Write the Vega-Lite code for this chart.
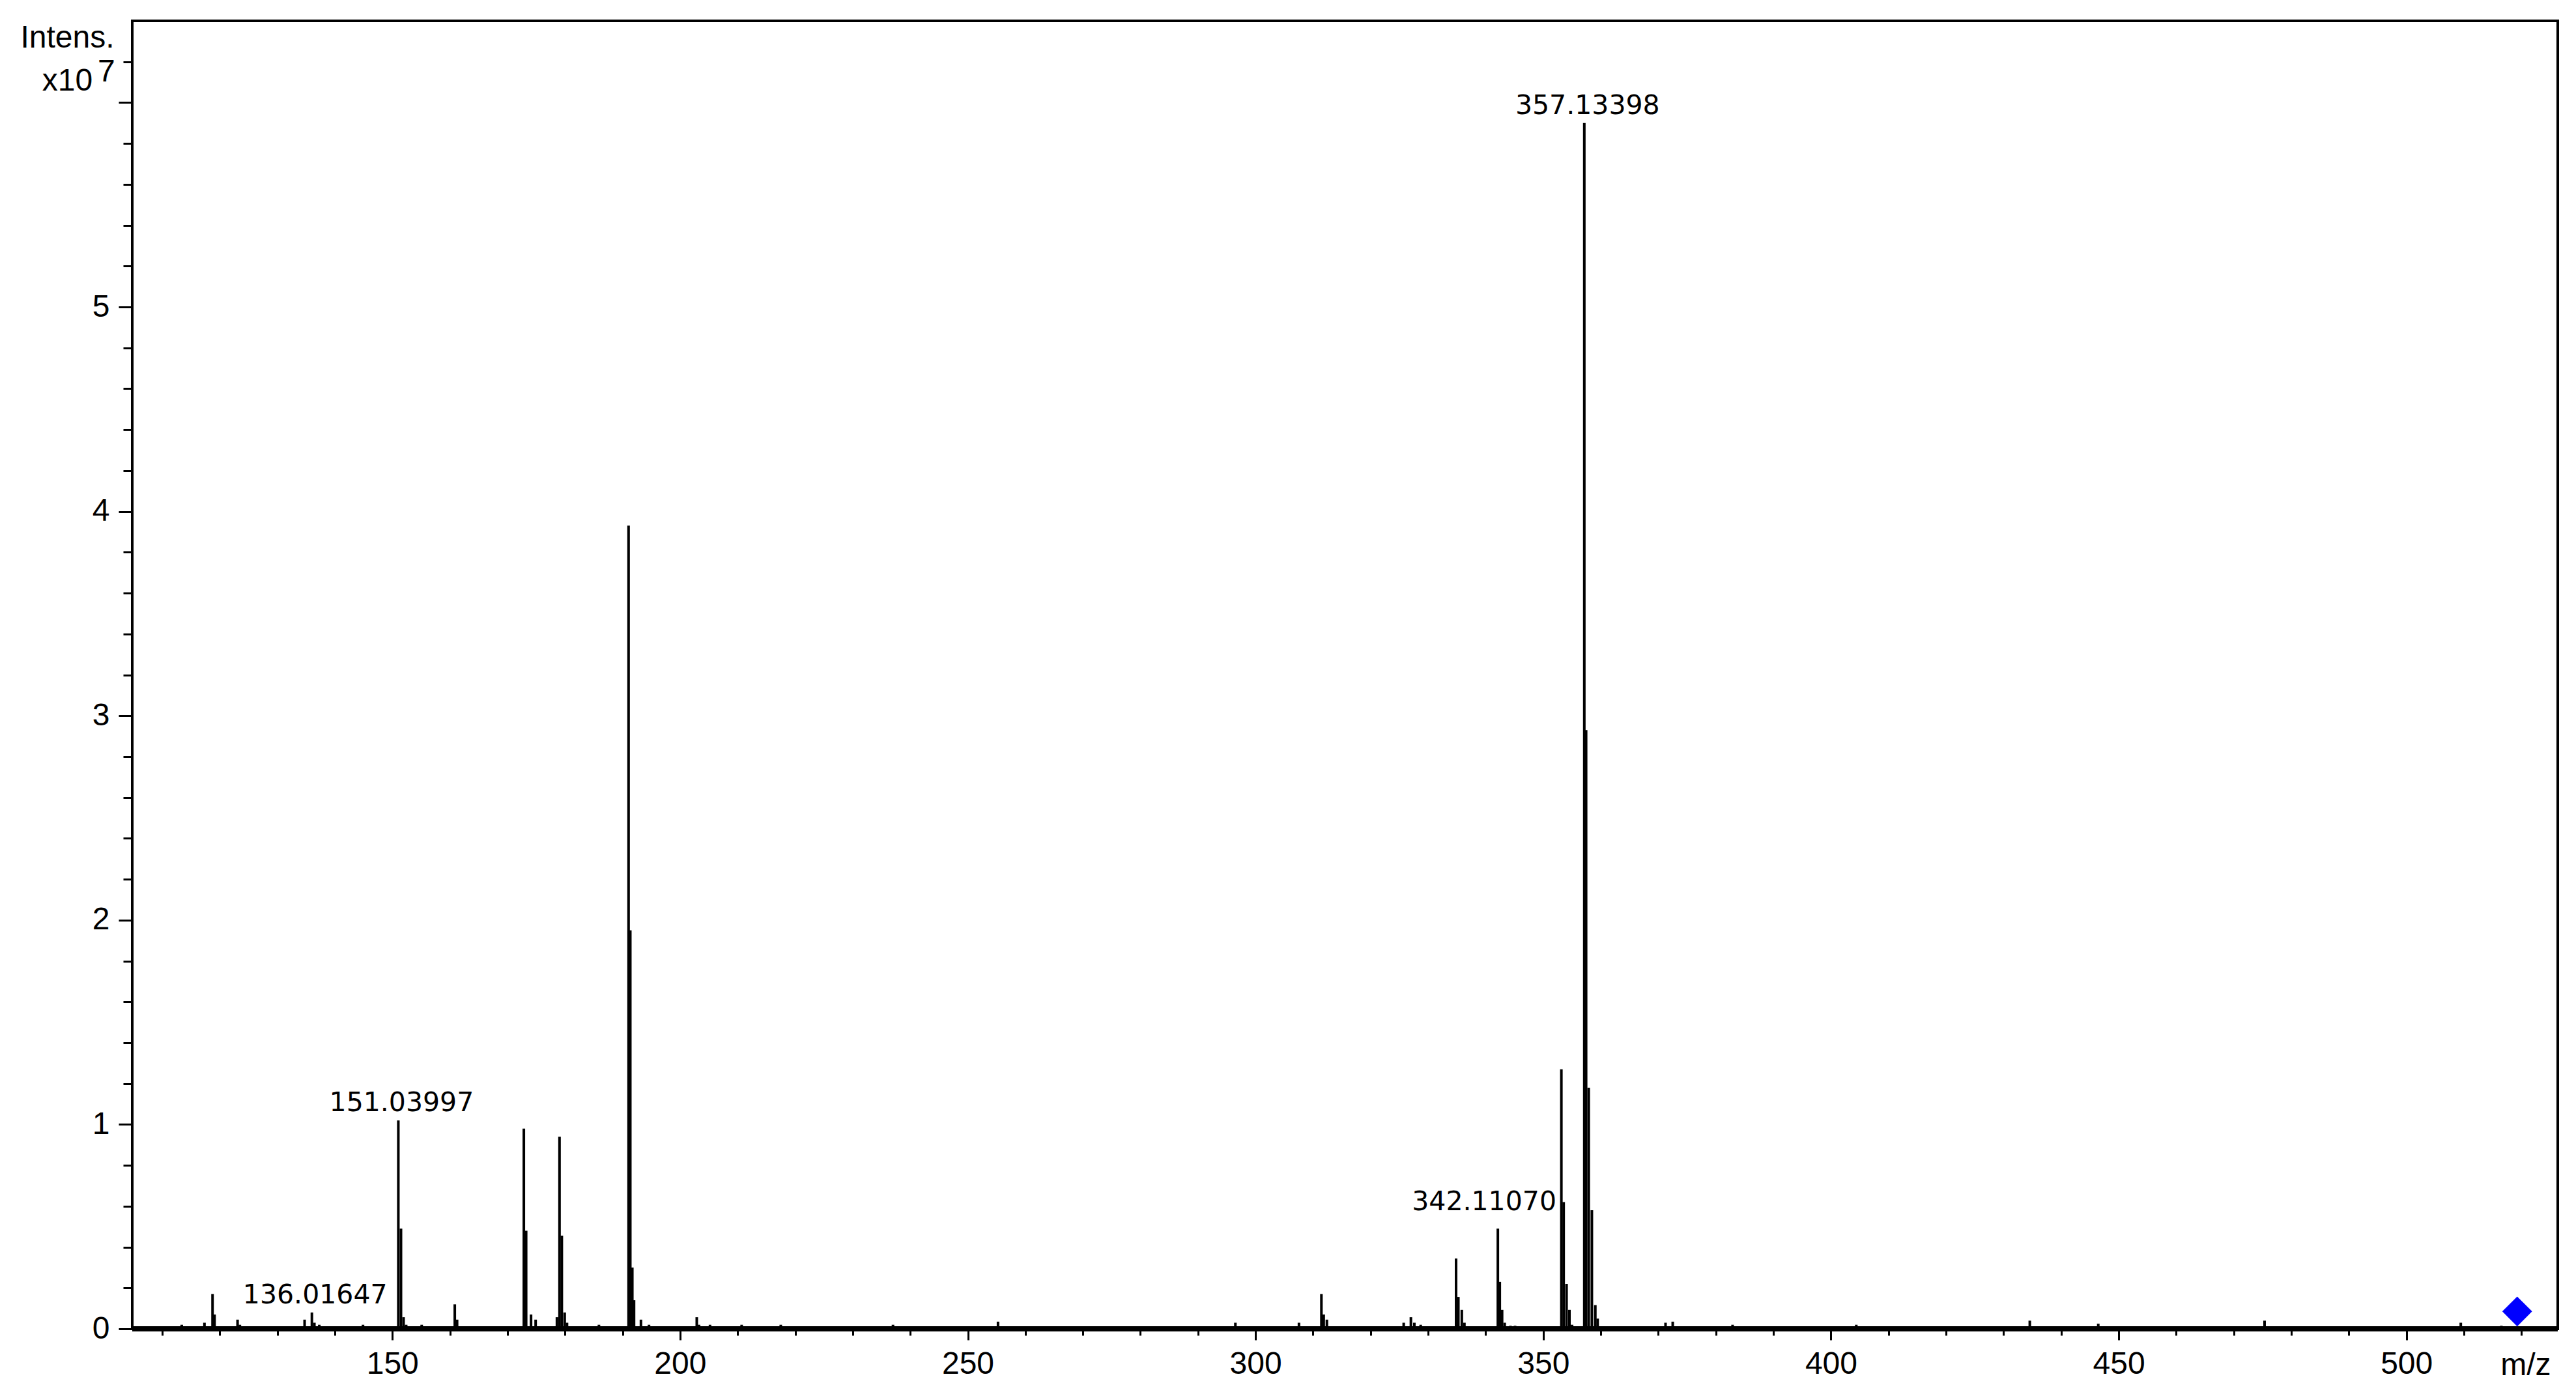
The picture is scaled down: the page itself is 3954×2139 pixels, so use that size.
{
  "$schema": "https://vega.github.io/schema/vega-lite/v6.json",
  "width": 3723,
  "height": 2007,
  "autosize": {"type": "none"},
  "padding": {"left": 203, "top": 32, "right": 28, "bottom": 100},
  "background": "white",
  "config": {
    "view": {"stroke": "black", "strokeWidth": 4},
    "axis": {
      "labelFont": "Liberation Sans",
      "labelFontSize": 48,
      "labelColor": "black",
      "titleFont": "Liberation Sans",
      "titleFontSize": 48,
      "titleFontWeight": "normal",
      "titleColor": "black",
      "tickColor": "black",
      "tickWidth": 3,
      "grid": false,
      "domain": false,
      "labelOverlap": false,
      "labelFlush": false
    }
  },
  "title": {
    "text": "7",
    "anchor": "start",
    "frame": "group",
    "orient": "top",
    "offset": 0,
    "dx": -53,
    "dy": 141,
    "font": "Liberation Sans",
    "fontSize": 48,
    "fontWeight": "normal",
    "color": "black",
    "baseline": "alphabetic"
  },
  "datasets": {
    "peaks": [
      {"mz": 113.4, "intensity": 0.02},
      {"mz": 117.35, "intensity": 0.03},
      {"mz": 118.75, "intensity": 0.17},
      {"mz": 119.1, "intensity": 0.07},
      {"mz": 123.1, "intensity": 0.045},
      {"mz": 123.5, "intensity": 0.02},
      {"mz": 134.75, "intensity": 0.045},
      {"mz": 136.01647, "intensity": 0.08, "label": "136.01647"},
      {"mz": 136.45, "intensity": 0.03},
      {"mz": 137.3, "intensity": 0.02},
      {"mz": 144.9, "intensity": 0.02},
      {"mz": 151.03997, "intensity": 1.02, "label": "151.03997"},
      {"mz": 151.5, "intensity": 0.49},
      {"mz": 151.95, "intensity": 0.057},
      {"mz": 152.4, "intensity": 0.02},
      {"mz": 155.1, "intensity": 0.02},
      {"mz": 160.85, "intensity": 0.12},
      {"mz": 161.25, "intensity": 0.045},
      {"mz": 172.85, "intensity": 0.98},
      {"mz": 173.25, "intensity": 0.48},
      {"mz": 174.1, "intensity": 0.07},
      {"mz": 174.9, "intensity": 0.045},
      {"mz": 178.6, "intensity": 0.057},
      {"mz": 179.05, "intensity": 0.94},
      {"mz": 179.45, "intensity": 0.456},
      {"mz": 179.95, "intensity": 0.08},
      {"mz": 180.35, "intensity": 0.03},
      {"mz": 185.9, "intensity": 0.02},
      {"mz": 191.05, "intensity": 3.93},
      {"mz": 191.35, "intensity": 1.95},
      {"mz": 191.7, "intensity": 0.3},
      {"mz": 192.0, "intensity": 0.14},
      {"mz": 193.2, "intensity": 0.045},
      {"mz": 194.6, "intensity": 0.02},
      {"mz": 202.9, "intensity": 0.057},
      {"mz": 203.3, "intensity": 0.02},
      {"mz": 205.2, "intensity": 0.02},
      {"mz": 210.7, "intensity": 0.02},
      {"mz": 217.5, "intensity": 0.02},
      {"mz": 237.0, "intensity": 0.02},
      {"mz": 255.25, "intensity": 0.035},
      {"mz": 296.5, "intensity": 0.03},
      {"mz": 307.55, "intensity": 0.03},
      {"mz": 311.45, "intensity": 0.17},
      {"mz": 311.85, "intensity": 0.07},
      {"mz": 312.4, "intensity": 0.045},
      {"mz": 325.75, "intensity": 0.03},
      {"mz": 327.0, "intensity": 0.057},
      {"mz": 327.6, "intensity": 0.03},
      {"mz": 328.7, "intensity": 0.02},
      {"mz": 334.85, "intensity": 0.344},
      {"mz": 335.25, "intensity": 0.156},
      {"mz": 335.85, "intensity": 0.093},
      {"mz": 336.3, "intensity": 0.03},
      {"mz": 342.1107, "intensity": 0.49, "label": "342.11070"},
      {"mz": 342.45, "intensity": 0.23},
      {"mz": 342.85, "intensity": 0.093},
      {"mz": 343.3, "intensity": 0.03},
      {"mz": 344.3, "intensity": 0.015},
      {"mz": 345.1, "intensity": 0.015},
      {"mz": 353.15, "intensity": 1.27},
      {"mz": 353.55, "intensity": 0.62},
      {"mz": 354.05, "intensity": 0.22},
      {"mz": 354.55, "intensity": 0.093},
      {"mz": 355.0, "intensity": 0.02},
      {"mz": 357.13398, "intensity": 5.9, "label": "357.13398"},
      {"mz": 357.45, "intensity": 2.93},
      {"mz": 357.9, "intensity": 1.18},
      {"mz": 358.45, "intensity": 0.58},
      {"mz": 359.05, "intensity": 0.116},
      {"mz": 359.45, "intensity": 0.05},
      {"mz": 371.25, "intensity": 0.03},
      {"mz": 372.5, "intensity": 0.035},
      {"mz": 382.9, "intensity": 0.02},
      {"mz": 404.4, "intensity": 0.02},
      {"mz": 434.55, "intensity": 0.04},
      {"mz": 446.45, "intensity": 0.025},
      {"mz": 475.35, "intensity": 0.04},
      {"mz": 509.45, "intensity": 0.03},
      {"mz": 516.5, "intensity": 0.015}
    ],
    "precursor": [{"mz": 519.25, "intensity": 0.085}],
    "baseline": [{"intensity": 0}]
  },
  "resolve": {"axis": {"x": "independent", "y": "independent"}},
  "layer": [
    {
      "data": {"name": "baseline"},
      "mark": {"type": "rule", "strokeWidth": 8, "color": "black"},
      "encoding": {
        "y": {"field": "intensity", "type": "quantitative", "scale": {"domain": [0, 6.4], "nice": false}, "axis": null}
      }
    },
    {
      "data": {"name": "peaks"},
      "mark": {"type": "rule", "strokeWidth": 4, "color": "black", "strokeCap": "butt"},
      "encoding": {
        "x": {
          "field": "mz",
          "type": "quantitative",
          "scale": {"domain": [104.8, 526.3], "nice": false, "zero": false},
          "axis": {
            "orient": "bottom",
            "values": [150, 200, 250, 300, 350, 400, 450, 500],
            "format": "d",
            "tickSize": 17,
            "labelPadding": 13,
            "labelOverlap": false,
            "title": "m/z",
            "titleAnchor": "end",
            "titleAlign": "right",
            "titleBaseline": "alphabetic",
            "titleX": 3712,
            "titleY": 70
          }
        },
        "y": {
          "field": "intensity",
          "type": "quantitative",
          "scale": {"domain": [0, 6.4], "nice": false},
          "axis": {
            "orient": "left",
            "values": [0, 1, 2, 3, 4, 5, 6],
            "format": "d",
            "tickSize": 21,
            "labelOverlap": false,
            "labelExpr": "datum.value < 6 ? datum.label : ''",
            "labelPadding": 14,
            "title": ["Intens.", "x10"],
            "titleAngle": 0,
            "titleAlign": "center",
            "titleBaseline": "alphabetic",
            "titleX": -100,
            "titleY": 40,
            "titleLineHeight": 66
          }
        },
        "y2": {"datum": 0}
      }
    },
    {
      "data": {"name": "peaks"},
      "transform": [{"filter": "datum.label && datum.label !== '342.11070'"}],
      "mark": {"type": "text", "font": "DejaVu Sans", "fontSize": 41, "dx": 5, "dy": -14, "baseline": "alphabetic", "align": "center", "color": "black"},
      "encoding": {
        "x": {"field": "mz", "type": "quantitative", "axis": null},
        "y": {"field": "intensity", "type": "quantitative", "axis": null},
        "text": {"field": "label"}
      }
    },
    {
      "data": {"name": "peaks"},
      "transform": [{"filter": "datum.label === '342.11070'"}],
      "mark": {"type": "text", "font": "DejaVu Sans", "fontSize": 41, "dx": -21, "dy": -28, "baseline": "alphabetic", "align": "center", "color": "black"},
      "encoding": {
        "x": {"field": "mz", "type": "quantitative", "axis": null},
        "y": {"field": "intensity", "type": "quantitative", "axis": null},
        "text": {"field": "label"}
      }
    },
    {
      "data": {"name": "precursor"},
      "mark": {"type": "point", "shape": "diamond", "filled": true, "size": 2100, "color": "#0000ff", "opacity": 1},
      "encoding": {
        "x": {
          "field": "mz",
          "type": "quantitative",
          "axis": {
            "orient": "bottom",
            "values": [110, 120, 130, 140, 160, 170, 180, 190, 210, 220, 230, 240, 260, 270, 280, 290, 310, 320, 330, 340, 360, 370, 380, 390, 410, 420, 430, 440, 460, 470, 480, 490, 510, 520],
            "tickSize": 10,
            "labels": false,
            "title": null
          }
        },
        "y": {
          "field": "intensity",
          "type": "quantitative",
          "axis": {
            "orient": "left",
            "values": [0.2, 0.4, 0.6, 0.8, 1.2, 1.4, 1.6, 1.8, 2.2, 2.4, 2.6, 2.8, 3.2, 3.4, 3.6, 3.8, 4.2, 4.4, 4.6, 4.8, 5.2, 5.4, 5.6, 5.8, 6.2],
            "tickSize": 14,
            "labels": false,
            "title": null
          }
        }
      }
    }
  ]
}
